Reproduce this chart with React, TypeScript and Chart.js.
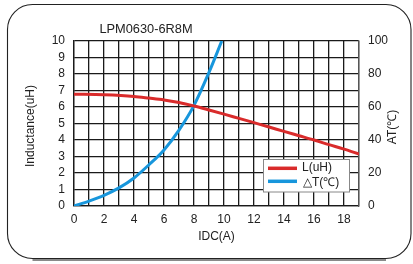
import React, { useEffect, useRef } from "react";
import { Chart, registerables } from "chart.js";

Chart.register(...registerables);

const chartTitle = "LPM0630-6R8M";
const xTitle = "IDC(A)";
const yLeftTitle = "Inductance(uH)";
const yRightTitle = "AT(℃)";
const seriesNames = ["L(uH)", "△T(℃)"];

const lCurrent = [0, 2, 4, 5, 6, 7, 8, 9, 10, 11, 12, 13, 14, 15, 16, 17, 18, 19];
const lValues = [6.78, 6.74, 6.64, 6.54, 6.43, 6.27, 6.06, 5.82, 5.57, 5.31, 5.05, 4.79, 4.52, 4.26, 4.0, 3.72, 3.45, 3.15];

const tCurrent = [0, 1, 2, 3, 4, 5, 6, 7, 8, 9, 9.85];
const tValues = [0, 3, 6.5, 11, 17, 25, 34, 46, 61, 81, 100];

const RED = "#d92b2b";
const BLUE = "#1796dc";
const FONT = "'Liberation Sans', Arial, sans-serif";

const framePlugin = {
  id: "frame",
  beforeDraw(chart: any) {
    const ctx = chart.ctx;
    ctx.save();
    ctx.fillStyle = "#ffffff";
    ctx.fillRect(0, 0, chart.width, chart.height);
    const l = 7.5, t = 4.5, r = 411, b = 258.5, rad = 25;
    ctx.strokeStyle = "#8a8a8a";
    ctx.lineWidth = 2.5;
    ctx.beginPath();
    ctx.moveTo(l + rad, b + 1.2);
    ctx.lineTo(r - rad, b + 1.2);
    ctx.stroke();
    ctx.strokeStyle = "#222";
    ctx.lineWidth = 1.1;
    ctx.beginPath();
    ctx.moveTo(l + rad, t);
    ctx.lineTo(r - rad, t);
    ctx.arcTo(r, t, r, t + rad, rad);
    ctx.lineTo(r, b - rad);
    ctx.arcTo(r, b, r - rad, b, rad);
    ctx.lineTo(l + rad, b);
    ctx.arcTo(l, b, l, b - rad, rad);
    ctx.lineTo(l, t + rad);
    ctx.arcTo(l, t, l + rad, t, rad);
    ctx.closePath();
    ctx.stroke();
    ctx.restore();
  },
  afterDraw(chart: any) {
    const ctx = chart.ctx;
    const ca = chart.chartArea;
    ctx.save();
    ctx.fillStyle = "#222";
    ctx.textBaseline = "middle";
    ctx.font = `12.8px ${FONT}`;
    ctx.textAlign = "center";
    ctx.fillText(chartTitle, 146, 29);
    ctx.font = `12px ${FONT}`;
    ctx.fillText(xTitle, (ca.left + ca.right) / 2, 237);
    ctx.save();
    ctx.translate(31, 126);
    ctx.rotate(-Math.PI / 2);
    ctx.fillText(yLeftTitle, 0, 0);
    ctx.restore();
    ctx.save();
    ctx.translate(393, 127);
    ctx.rotate(-Math.PI / 2);
    ctx.fillText(yRightTitle, 0, 0);
    ctx.restore();
    ctx.fillStyle = "#ffffff";
    ctx.fillRect(263.5, 159.5, 86, 32.5);
    ctx.strokeStyle = "#888";
    ctx.lineWidth = 1;
    ctx.strokeRect(263.5, 159.5, 86, 32.5);
    ctx.lineWidth = 3.5;
    ctx.strokeStyle = RED;
    ctx.beginPath();
    ctx.moveTo(268, 168.3);
    ctx.lineTo(297, 168.3);
    ctx.stroke();
    ctx.strokeStyle = BLUE;
    ctx.beginPath();
    ctx.moveTo(268, 181.3);
    ctx.lineTo(297, 181.3);
    ctx.stroke();
    ctx.fillStyle = "#222";
    ctx.textAlign = "left";
    ctx.font = `12px ${FONT}`;
    ctx.fillText(seriesNames[0], 302, 167.5);
    ctx.fillText(seriesNames[1], 303, 182.5);
    ctx.restore();
  },
};

export default function App() {
  const ref = useRef<HTMLCanvasElement | null>(null);
  useEffect(() => {
    if (!ref.current) return;
    const chart = new Chart(ref.current, {
      type: "line",
      data: {
        datasets: [
          {
            label: seriesNames[0],
            data: lCurrent.map((x, i) => ({ x, y: lValues[i] })),
            borderColor: RED,
            backgroundColor: RED,
            borderWidth: 3,
            pointRadius: 0,
            cubicInterpolationMode: "monotone",
            yAxisID: "y",
          },
          {
            label: seriesNames[1],
            data: tCurrent.map((x, i) => ({ x, y: tValues[i] })),
            borderColor: BLUE,
            backgroundColor: BLUE,
            borderWidth: 3,
            pointRadius: 0,
            cubicInterpolationMode: "monotone",
            yAxisID: "y1",
          },
        ],
      },
      options: {
        responsive: false,
        animation: false,
        devicePixelRatio: 1,
        layout: { padding: { top: 41, left: 0, right: 0, bottom: 0 } },
        plugins: { legend: { display: false }, tooltip: { enabled: false }, title: { display: false } },
        scales: {
          x: {
            type: "linear",
            min: 0,
            max: 19,
            afterFit: (s: any) => { s.height = 58; },
            ticks: {
              stepSize: 1,
              autoSkip: false,
              maxRotation: 0,
              padding: 6,
              color: "#222",
              font: { family: FONT, size: 12 },
              callback: (v: any) => (Number(v) % 2 === 0 ? String(v) : ""),
            },
            grid: { color: "#1a1a1a", lineWidth: 1.3, drawTicks: false },
            border: { color: "#1a1a1a", width: 1.3 },
          },
          y: {
            position: "left",
            min: 0,
            max: 10,
            afterFit: (s: any) => { s.width = 74; },
            ticks: {
              stepSize: 1,
              autoSkip: false,
              padding: 9,
              color: "#222",
              font: { family: FONT, size: 12 },
            },
            grid: { color: "#1a1a1a", lineWidth: 1.3, drawTicks: false },
            border: { color: "#1a1a1a", width: 1.3 },
          },
          y1: {
            position: "right",
            min: 0,
            max: 100,
            afterFit: (s: any) => { s.width = 54; },
            ticks: {
              stepSize: 20,
              autoSkip: false,
              padding: 9,
              color: "#222",
              font: { family: FONT, size: 12 },
            },
            grid: { drawOnChartArea: false, drawTicks: false },
            border: { color: "#555", width: 1.3 },
          },
        },
      },
      plugins: [framePlugin],
    });
    return () => chart.destroy();
  }, []);
  return (
    <div style={{ position: "fixed", left: 0, top: 0, width: 413, height: 264 }}>
      <canvas ref={ref} width={413} height={264} style={{ display: "block" }} />
    </div>
  );
}
